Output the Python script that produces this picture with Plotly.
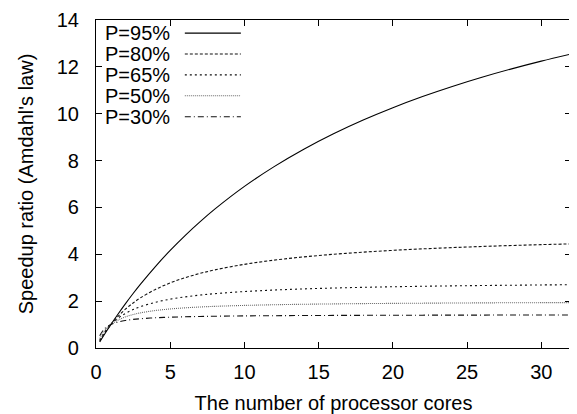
import plotly.graph_objects as go

cores = [0.25, 0.5, 0.75, 1, 1.5, 2, 2.5, 3, 4, 5, 6, 7, 8, 10, 12, 14, 16, 18,
         20, 22, 24, 26, 28, 30, 32]

labels = ["P=95%", "P=80%", "P=65%", "P=50%", "P=30%"]

speedup_95 = [0.260, 0.513, 0.759, 1.0, 1.463, 1.905, 2.326, 2.727, 3.478, 4.167,
              4.800, 5.385, 5.926, 6.897, 7.742, 8.485, 9.143, 9.730, 10.256,
              10.732, 11.163, 11.556, 11.915, 12.245, 12.549]
speedup_80 = [0.294, 0.556, 0.789, 1.0, 1.364, 1.667, 1.923, 2.143, 2.500, 2.778,
              3.000, 3.182, 3.333, 3.571, 3.750, 3.889, 4.000, 4.091, 4.167,
              4.231, 4.286, 4.333, 4.375, 4.412, 4.444]
speedup_65 = [0.339, 0.606, 0.822, 1.0, 1.277, 1.481, 1.639, 1.765, 1.951, 2.083,
              2.182, 2.258, 2.319, 2.410, 2.474, 2.523, 2.560, 2.590, 2.614,
              2.635, 2.652, 2.667, 2.679, 2.691, 2.700]
speedup_50 = [0.400, 0.667, 0.857, 1.0, 1.200, 1.333, 1.429, 1.500, 1.600, 1.667,
              1.714, 1.750, 1.778, 1.818, 1.846, 1.867, 1.882, 1.895, 1.905,
              1.913, 1.920, 1.926, 1.931, 1.935, 1.939]
speedup_30 = [0.526, 0.769, 0.909, 1.0, 1.111, 1.176, 1.220, 1.250, 1.290, 1.316,
              1.333, 1.346, 1.356, 1.370, 1.379, 1.386, 1.391, 1.395, 1.399,
              1.401, 1.404, 1.405, 1.407, 1.408, 1.410]

series = [speedup_95, speedup_80, speedup_65, speedup_50, speedup_30]
colors = ["#000000", "#111111", "#111111", "#666666", "#111111"]
dashes = ["solid", "3px,2px", "2px,3px", "1px,1px", "6px,3px,1px,3px"]

FONT = "Liberation Sans, Arial, sans-serif"
FS = 20

fig = go.Figure()
for lab, ys, c, d in zip(labels, series, colors, dashes):
    fig.add_trace(go.Scatter(x=cores, y=ys, mode="lines", name=lab,
                             line=dict(color=c, width=1.1, dash=d, shape="spline"),
                             showlegend=False))

# gnuplot-style legend: text on the left, line sample on the right
row0 = 0.960
step = 0.0637
for i, (lab, c, d) in enumerate(zip(labels, colors, dashes)):
    y = row0 - i * step
    fig.add_annotation(x=0.015, y=y, xref="paper", yref="paper", text=lab,
                       showarrow=False, xanchor="left", yanchor="middle",
                       font=dict(family=FONT, size=FS, color="black"))
    fig.add_shape(type="line", xref="paper", yref="paper", x0=0.187, x1=0.305,
                  y0=y, y1=y, line=dict(color=c, width=1.1, dash=d))

axis_common = dict(showline=True, linecolor="black", linewidth=1.2, mirror="ticks",
                   ticks="inside", ticklen=6, tickcolor="black", showgrid=False,
                   zeroline=False, automargin=False, ticklabeloverflow="allow",
                   tickfont=dict(family=FONT, size=FS, color="black"))

fig.update_xaxes(range=[0, 32], tickvals=[0, 5, 10, 15, 20, 25, 30],
                 title=dict(text="The number of processor cores",
                            font=dict(family=FONT, size=FS, color="black"), standoff=14),
                 ticklabelstandoff=6, **axis_common)
fig.update_yaxes(range=[0, 14], tickvals=[0, 2, 4, 6, 8, 10, 12, 14],
                 title=dict(text="Speedup ratio (Amdahl's law)",
                            font=dict(family=FONT, size=FS, color="black"), standoff=17),
                 ticklabelstandoff=12, **axis_common)

# the page body adds an 8px offset, so the figure is sized to compensate
fig.update_layout(width=569, height=406, margin=dict(l=88, r=6, t=12, b=66),
                  plot_bgcolor="white", paper_bgcolor="white",
                  font=dict(family=FONT, size=FS, color="black"))

fig.write_html("out.html")
